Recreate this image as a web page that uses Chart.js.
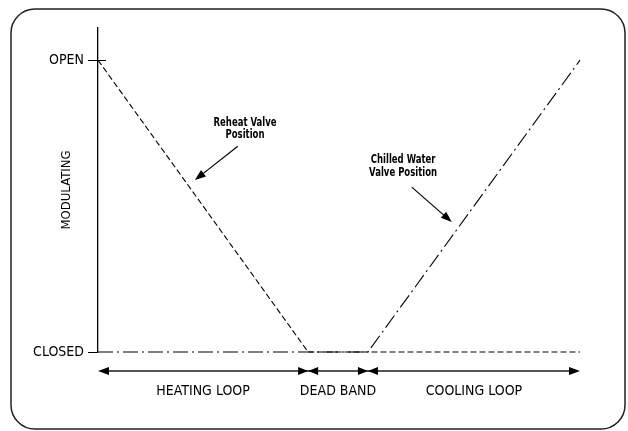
<!DOCTYPE html>
<html>
<head>
<meta charset="utf-8">
<script src="https://cdn.jsdelivr.net/npm/chart.js@4/dist/chart.umd.min.js"></script>
<style>
html,body{margin:0;padding:0;background:#fff;}
canvas{display:block;}
</style>
</head>
<body>
<canvas id="c" width="628" height="431"></canvas>
<script>
// ---- data ----
const positions = [0, 43.6, 56, 100];          // loop breakpoints along the x axis
const reheatValve = [100, 0, 0, 0];             // Reheat Valve Position
const chilledValve = [0, 0, 0, 100];            // Chilled Water Valve Position
const yTickValues = [0, 100];
const yTickLabels = ['CLOSED', 'OPEN'];
const yTitle = 'MODULATING';
const zoneLabels = ['HEATING LOOP', 'DEAD BAND', 'COOLING LOOP'];
const reheatNote = ['Reheat Valve', 'Position'];
const chilledNote = ['Chilled Water', 'Valve Position'];

const FONT = "'DejaVu Sans Condensed', 'Liberation Sans Narrow', sans-serif";

// annotation anchors in data coordinates
const notes = [
  {lines: reheatNote, tx: 30.5, ty: [78.4, 74.3], from: [29.0, 70.5], to: [20.1, 58.9]},
  {lines: chilledNote, tx: 63.3, ty: [65.8, 61.3], from: [65.1, 56.5], to: [73.4, 44.5]}
];

function arrowHead(ctx, x, y, ang, len, half) {
  ctx.save();
  ctx.translate(x, y);
  ctx.rotate(ang);
  ctx.beginPath();
  ctx.moveTo(0, 0);
  ctx.lineTo(-len, -half);
  ctx.lineTo(-len, half);
  ctx.closePath();
  ctx.fillStyle = '#000';
  ctx.fill();
  ctx.restore();
}

const overlay = {
  id: 'overlay',
  beforeDraw(chart) {
    const ctx = chart.ctx;
    ctx.save();
    ctx.fillStyle = '#fff';
    ctx.fillRect(0, 0, chart.width, chart.height);
    ctx.strokeStyle = '#222';
    ctx.lineWidth = 1.5;
    ctx.beginPath();
    ctx.roundRect(11, 9, 614, 420, 24);
    ctx.stroke();
    ctx.restore();
  },
  afterDraw(chart) {
    const ctx = chart.ctx;
    const xs = chart.scales.x, ys = chart.scales.y;
    ctx.save();
    // OPEN tick extension across axis
    const yo = ys.getPixelForValue(100);
    ctx.strokeStyle = '#000';
    ctx.lineWidth = 1;
    ctx.beginPath();
    ctx.moveTo(xs.left, Math.round(yo) + 0.5);
    ctx.lineTo(xs.left + 8, Math.round(yo) + 0.5);
    ctx.stroke();

    // annotations
    ctx.fillStyle = '#000';
    ctx.font = 'bold 11px ' + FONT;
    ctx.textAlign = 'center';
    ctx.textBaseline = 'middle';
    notes.forEach(n => {
      n.lines.forEach((t, i) => {
        ctx.save();
        ctx.translate(xs.getPixelForValue(n.tx), ys.getPixelForValue(n.ty[i]));
        ctx.scale(0.86, 1.05);
        ctx.fillText(t, 0, 0);
        ctx.restore();
      });
      const x1 = xs.getPixelForValue(n.from[0]), y1 = ys.getPixelForValue(n.from[1]);
      const x2 = xs.getPixelForValue(n.to[0]), y2 = ys.getPixelForValue(n.to[1]);
      const ang = Math.atan2(y2 - y1, x2 - x1);
      ctx.strokeStyle = '#000';
      ctx.lineWidth = 1.2;
      ctx.beginPath();
      ctx.moveTo(x1, y1);
      ctx.lineTo(x2 - 8 * Math.cos(ang), y2 - 8 * Math.sin(ang));
      ctx.stroke();
      arrowHead(ctx, x2, y2, ang, 11, 4);
    });

    // bottom dimension arrows
    const ay = ys.bottom + 19;
    const bx = positions.map(p => xs.getPixelForValue(p));
    ctx.strokeStyle = '#555';
    ctx.lineWidth = 1.8;
    ctx.beginPath();
    ctx.moveTo(bx[0] + 4, ay);
    ctx.lineTo(bx[3] - 4, ay);
    ctx.stroke();
    arrowHead(ctx, bx[0], ay, Math.PI, 11, 4);
    arrowHead(ctx, bx[1], ay, 0, 10, 4);
    arrowHead(ctx, bx[1], ay, Math.PI, 10, 4);
    arrowHead(ctx, bx[2], ay, 0, 10, 4);
    arrowHead(ctx, bx[2], ay, Math.PI, 10, 4);
    arrowHead(ctx, bx[3], ay, 0, 11, 4);

    ctx.fillStyle = '#000';
    ctx.font = '14px ' + FONT;
    ctx.textAlign = 'center';
    ctx.textBaseline = 'middle';
    zoneLabels.forEach((t, i) => {
      ctx.fillText(t, (bx[i] + bx[i + 1]) / 2, ay + 20);
    });
    ctx.restore();
  }
};

const toPts = arr => arr.map((v, i) => ({x: positions[i], y: v}));

new Chart(document.getElementById('c'), {
  type: 'line',
  data: {
    datasets: [
      {label: 'Reheat Valve Position', data: toPts(reheatValve), borderColor: '#000', borderWidth: 1.1,
       borderDash: [6, 3], pointRadius: 0, fill: false, tension: 0, clip: false},
      {label: 'Chilled Water Valve Position', data: toPts(chilledValve), borderColor: '#000', borderWidth: 1.1,
       borderDash: [15, 4, 2, 4], pointRadius: 0, fill: false, tension: 0, clip: false}
    ]
  },
  options: {
    responsive: false,
    animation: false,
    devicePixelRatio: 1,
    layout: {padding: {left: 12, right: 48, top: 28, bottom: 79}},
    plugins: {legend: {display: false}, tooltip: {enabled: false}},
    scales: {
      x: {type: 'linear', min: 0, max: 100, display: false},
      y: {
        type: 'linear', min: 0, max: 111,
        afterBuildTicks: s => { s.ticks = yTickValues.map(v => ({value: v})); },
        afterFit: s => { s.width = 86; },
        ticks: {
          color: '#000', padding: 4, font: {family: FONT, size: 14},
          callback: v => yTickLabels[yTickValues.indexOf(v)]
        },
        grid: {drawOnChartArea: false, drawTicks: true, tickLength: 10, color: '#000', lineWidth: 1},
        border: {display: true, color: '#000', width: 1.3},
        title: {display: true, text: yTitle, color: '#000', font: {family: FONT, size: 13}, padding: {top: 47, bottom: 4}}
      }
    }
  },
  plugins: [overlay]
});
</script>
</body>
</html>
